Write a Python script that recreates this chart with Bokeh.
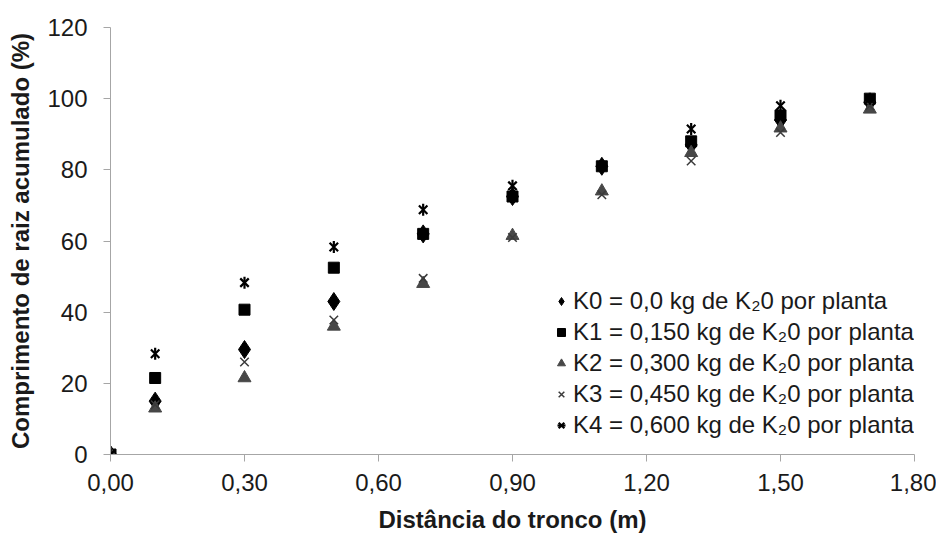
from bokeh.plotting import figure
from bokeh.models import Range1d, FixedTicker, Legend, LegendItem, ColumnDataSource
from bokeh.embed import file_html
from bokeh.resources import INLINE
import math

# ---- data ----
dist = [0.0, 0.1, 0.3, 0.5, 0.7, 0.9, 1.1, 1.3, 1.5, 1.7]
k0 = [0, 15.0, 29.5, 43.0, 62.0, 72.5, 81.0, 87.0, 94.0, 99.0]
k1 = [0, 21.5, 40.7, 52.5, 62.0, 72.5, 81.0, 88.0, 95.3, 100.0]
k2 = [0, 13.0, 21.5, 36.0, 48.0, 61.5, 74.0, 84.8, 91.7, 97.0]
k3 = [0, 14.0, 26.0, 37.8, 49.5, 61.0, 73.0, 82.5, 90.5, 98.0]
k4 = [0, 28.3, 48.3, 58.3, 68.8, 75.5, 81.0, 91.5, 98.0, 100.0]

labels = ["K0 = 0,0 kg de K\u20820 por planta",
          "K1 = 0,150 kg de K\u20820 por planta",
          "K2 = 0,300 kg de K\u20820 por planta",
          "K3 = 0,450 kg de K\u20820 por planta",
          "K4 = 0,600 kg de K\u20820 por planta"]

x_ticks = [0.0, 0.3, 0.6, 0.9, 1.2, 1.5, 1.8]
x_tick_labels = ["0,00", "0,30", "0,60", "0,90", "1,20", "1,50", "1,80"]
y_ticks = [0, 20, 40, 60, 80, 100, 120]

FONT = "Liberation Sans"
AX = "#a6a6a6"

p = figure(width=936, height=535, output_backend="svg", toolbar_location=None,
           x_range=Range1d(0, 1.8), y_range=Range1d(0, 120),
           min_border_left=110, min_border_right=22, min_border_top=27, min_border_bottom=81)
p.outline_line_color = None
p.xgrid.visible = False
p.ygrid.visible = False
p.background_fill_color = "white"

for ax in (p.xaxis[0], p.yaxis[0]):
    ax.axis_line_color = AX
    ax.major_tick_line_color = AX
    ax.minor_tick_line_color = None
    ax.major_tick_in = 0
    ax.major_tick_out = 7
    ax.major_label_text_font = FONT
    ax.major_label_text_font_size = "24px"
    ax.major_label_text_color = "#1a1a1a"
    ax.axis_label_text_font = FONT
    ax.axis_label_text_font_size = "24px"
    ax.axis_label_text_font_style = "bold"
    ax.axis_label_text_color = "#1a1a1a"

p.xaxis.ticker = FixedTicker(ticks=x_ticks)
p.xaxis.major_label_overrides = {t: l for t, l in zip(x_ticks, x_tick_labels)}
p.xaxis.axis_label = "Distância do tronco (m)"
p.xaxis.major_label_standoff = 12
p.xaxis.axis_label_standoff = 12

p.yaxis.ticker = FixedTicker(ticks=y_ticks)
p.yaxis.axis_label = "Comprimento de raiz acumulado (%)"
p.yaxis.major_label_standoff = 16
p.yaxis.axis_label_standoff = 10

src = ColumnDataSource(dict(x=dist, k0=k0, k1=k1, k2=k2, k3=k3, k4=k4))

r0 = p.scatter("x", "k0", source=src, marker="diamond", size=18,
               fill_color="black", line_color="black")
r1 = p.scatter("x", "k1", source=src, marker="square", size=11,
               fill_color="black", line_color="black")
r2 = p.scatter("x", "k2", source=src, marker="triangle", size=13,
               fill_color="#474747", line_color="#474747")
r3 = p.scatter("x", "k3", source=src, marker="x", size=12,
               line_color="#3a3a3a", line_width=1.5)
r4a = p.scatter("x", "k4", source=src, marker="x", size=12,
                line_color="black", line_width=2.2)
r4b = p.scatter("x", "k4", source=src, marker="dash", size=12, angle=math.pi / 2,
                line_color="black", line_width=2.2)

items = [LegendItem(label=labels[0], renderers=[r0]),
         LegendItem(label=labels[1], renderers=[r1]),
         LegendItem(label=labels[2], renderers=[r2]),
         LegendItem(label=labels[3], renderers=[r3]),
         LegendItem(label=labels[4], renderers=[r4a, r4b])]
legend = Legend(items=items, location=(441, 15), border_line_color=None,
                background_fill_alpha=0, padding=0, margin=0, spacing=3,
                glyph_width=20, glyph_height=20, label_standoff=2,
                label_text_font=FONT, label_text_font_size="24px",
                label_text_color="#1a1a1a")
p.add_layout(legend)

open("out.html", "w").write(file_html(p, INLINE))
